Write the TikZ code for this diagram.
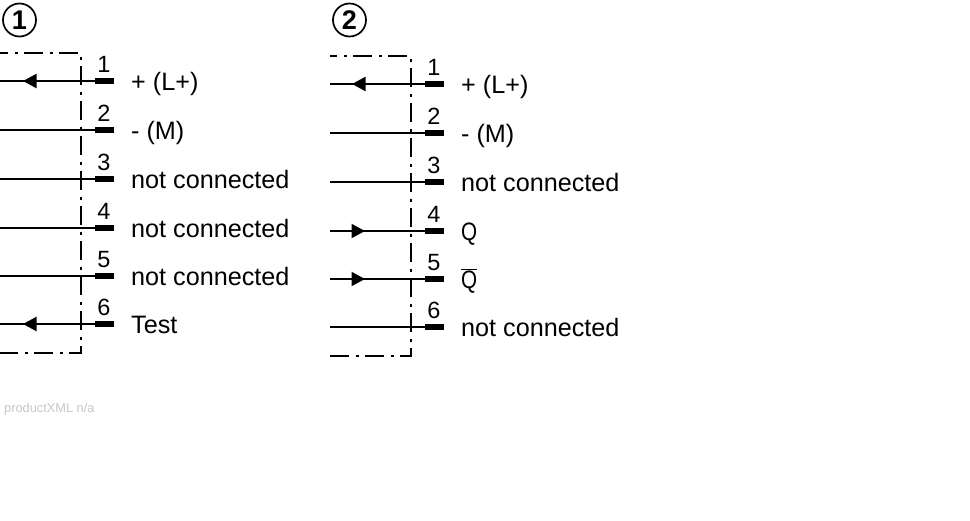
\documentclass[tikz,border=0pt]{standalone}
\usepackage{fontspec}
\setmainfont{Liberation Sans}
\usepackage{graphicx}
\usepackage{tikz}
\usetikzlibrary{arrows.meta}
\usetikzlibrary{decorations.markings}
\usetikzlibrary{positioning}
\tikzset{wire/.style = {line width = 2}}
\tikzset{tipat/.style = {decoration={markings,
                                  mark=at position #1 with {\arrow{Triangle[length=13.5pt, width=14pt]}}},
                      postaction={decorate}}}
\tikzset{pad/.style = {fill, rectangle, inner sep = 0, minimum width = 19, minimum height = 6, anchor = west}}
\tikzset{frame/.style = {line width = 2.8, dash pattern = on 19pt off 6.5pt on 3pt off 6.5pt, dash phase = #1}}
\tikzset{pinno/.style = {anchor = base, font = \fontsize{23.5}{28}\selectfont}}
\tikzset{pintext/.style = {anchor = base west, inner sep = 0, font = \fontsize{25.2}{30}\selectfont}}
\tikzset{badge/.style = {draw, circle, inner sep = 0, minimum size = 33, line width = 1.7, font = \fontsize{27}{30}\selectfont\bfseries}}
\newcommand{\slimq}{\scalebox{0.82}[1]{Q}}

\begin{document}
\begin{tikzpicture}[x = 1pt, y = -1pt]
      \useasboundingbox (0, 0) rectangle (970, 520);

      % first connector
      \node [badge] (badgeA) at (19.5, 20) {1};
      \coordinate (frameAa) at (0, 53);
      \coordinate (frameAb) at (81, 53);
      \coordinate (frameAc) at (81, 353);
      \coordinate (frameAd) at (0, 353);
      \draw [frame = 11pt] (frameAa) -- (frameAb) -- (frameAc) -- (frameAd);
      \foreach \n/\y/\txt in {1/81/+ (L+), 2/130/- (M), 3/179/not connected,
                              4/228/not connected, 5/276/not connected, 6/324/Test} {
        \node [pad] (padA\n) at (95, \y) {};
        \coordinate (endA\n) at (0, \y);
        \node [pinno] (noA\n) at (104, \y - 9) {\n};
        \node [pintext] (txtA\n) at (131, \y + 9) {\txt};
      }
      \draw [wire, tipat = 72pt] (padA1) -- (endA1);
      \draw [wire] (padA2) -- (endA2);
      \draw [wire] (padA3) -- (endA3);
      \draw [wire] (padA4) -- (endA4);
      \draw [wire] (padA5) -- (endA5);
      \draw [wire, tipat = 72pt] (padA6) -- (endA6);

      % second connector
      \node [badge] (badgeB) at (349.5, 20) {2};
      \coordinate (frameBa) at (330, 56);
      \coordinate (frameBb) at (411, 56);
      \coordinate (frameBc) at (411, 356);
      \coordinate (frameBd) at (330, 356);
      \draw [frame = 12pt] (frameBa) -- (frameBb) -- (frameBc) -- (frameBd);
      \foreach \n/\y/\txt in {1/84/+ (L+), 2/133/- (M), 3/182/not connected,
                              4/231/\slimq, 5/279/$\overline{\mbox{\slimq}}$, 6/327/not connected} {
        \node [pad] (padB\n) at (425, \y) {};
        \coordinate (endB\n) at (330, \y);
        \node [pinno] (noB\n) at (434, \y - 9) {\n};
        \node [pintext] (txtB\n) at (461, \y + 9) {\txt};
      }
      \draw [wire, tipat = 73pt] (padB1) -- (endB1);
      \draw [wire] (padB2) -- (endB2);
      \draw [wire] (padB3) -- (endB3);
      \draw [wire, tipat = 35pt] (endB4) -- (padB4);
      \draw [wire, tipat = 35pt] (endB5) -- (padB5);
      \draw [wire] (padB6) -- (endB6);

      \node [anchor = base west, inner sep = 0, text = black!22, font = \fontsize{12.8}{15}\selectfont] (source) at (4, 412) {productXML n/a};
    \end{tikzpicture}
\end{document}
